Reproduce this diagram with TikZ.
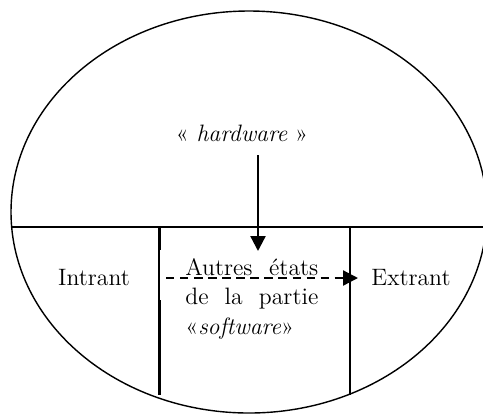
\documentclass[tikz,border=0pt]{standalone}
\usepackage{fontspec}
\usetikzlibrary{arrows.meta,positioning}

\tikzset{
	thinline/.style={line width=0.8pt},
	thickline/.style={line width=1.5pt},
	bigtip/.style={-{Triangle[length=8.5pt,width=8.5pt]}, line width=1.3pt},
	label/.style={font=\fontsize{13.5}{17}\selectfont, inner sep=0pt}
}

\begin{document}
\begin{tikzpicture}[x=0.02cm, y=-0.02cm]

		\def\W{483} \def\H{414}
		\def\cx{249} \def\cy{212} % centre of the ellipse
		\def\rx{238} \def\ry{201}
		\def\ycut{227} % horizontal split
		\def\xL{159.5} \def\xR{350}
		\def\ybot{395}

		% left end of the split on the ellipse
		\pgfmathsetmacro{\xcut}{\cx - \rx*sqrt(1-((\ycut-\cy)/\ry)^2)}

		\clip (0,0) rectangle (\W,\H);

		% Outer ellipse
		\draw[thinline] (\cx,\cy) ellipse [x radius=\rx, y radius=\ry];

		% Split line and the two dividers
		\draw[thinline] (\xcut,\ycut) -- (\W+10,\ycut);
		\draw[thickline] (\xL,\ycut) -- (\xL,\ybot);
		\draw[thinline] (\xR,\ycut) -- (\xR,\ybot);
		\fill[white] (\xL+0.3,250) rectangle (176,300);

		% Labels
		\node[label] (hw) at (242,133) {« \textit{hardware} »};
		\node[label] (intrant) at (94,278) {Intrant};
		\node[label] (extrant) at (411,278) {Extrant};
		\node[label, text width=2.66cm, align=left, anchor=base west]
			(autres) at (185,275)
			{Autres\hfill états\\de\hfill la\hfill partie\\«\textit{software}»};

		% arrow ends
		\coordinate (hwfoot) at (258,155);
		\coordinate (hwtip) at (258,251);
		\coordinate (swstart) at (166,278);
		\coordinate (swtip) at (358,278);

		\draw[bigtip] (hwfoot) -- (hwtip);
		\draw[bigtip, dash pattern=on 4.8pt off 3.2pt] (swstart) -- (swtip);

	\end{tikzpicture}
\end{document}
